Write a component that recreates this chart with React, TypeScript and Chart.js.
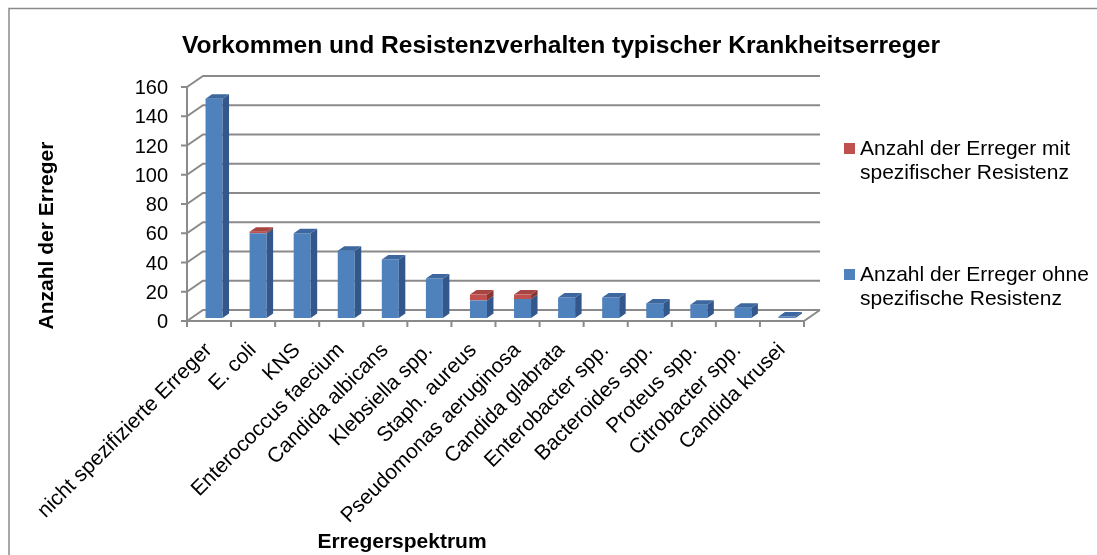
import React, { useEffect, useRef } from 'react';
import { Chart, registerables } from 'chart.js';

Chart.register(...registerables);

// ---------- data ----------
const categories = [
  'nicht spezifizierte Erreger',
  'E. coli',
  'KNS',
  'Enterococcus faecium',
  'Candida albicans',
  'Klebsiella spp.',
  'Staph. aureus',
  'Pseudomonas aeruginosa',
  'Candida glabrata',
  'Enterobacter spp.',
  'Bacteroides spp.',
  'Proteus spp.',
  'Citrobacter spp.',
  'Candida krusei',
];
const ohneResistenz = [150, 58, 58, 46, 40, 27, 12, 13, 14, 14, 10, 9, 7, 1];
const mitResistenz = [0, 1, 0, 0, 0, 0, 4, 3, 0, 0, 0, 0, 0, 0];
const yTicks = [0, 20, 40, 60, 80, 100, 120, 140, 160];
const seriesOhne = 'Anzahl der Erreger ohne spezifische Resistenz';
const seriesMit = 'Anzahl der Erreger mit spezifischer Resistenz';
const legendMitLines = ['Anzahl der Erreger mit', 'spezifischer Resistenz'];
const legendOhneLines = ['Anzahl der Erreger ohne', 'spezifische Resistenz'];
const chartTitle = 'Vorkommen und Resistenzverhalten typischer Krankheitserreger';
const yTitle = 'Anzahl der Erreger';
const xTitle = 'Erregerspektrum';

// ---------- style ----------
const FONT = '"Liberation Sans", Arial, Helvetica, sans-serif';
const BLUE = { front: '#4F81BD', side: '#33578A', top: '#3C679F' };
const RED = { front: '#C0504D', side: '#873634', top: '#A84441' };
const GRID = '#8a8a8a';
const WALL = { dx: 16, dy: -11 };
const BAR_D = { dx: 6.5, dy: -4.5 };
const PLANE = { dx: -5, dy: 3 };

const excel3d = {
  id: 'excel3d',
  beforeDatasetsDraw(chart: any) {
    const { ctx, chartArea: ca, scales } = chart;
    const x = scales.x;
    const y = scales.y;
    const n = categories.length;
    const cw = (ca.right - ca.left) / n;
    const fy = (v: number) => y.getPixelForValue(v) + PLANE.dy;
    const fx0 = x.getPixelForValue(0) - cw / 2 + PLANE.dx;
    const fx1 = x.getPixelForValue(n - 1) + cw / 2 + PLANE.dx;
    const y0 = fy(0);
    ctx.save();
    ctx.strokeStyle = GRID;
    ctx.lineWidth = 2;
    ctx.lineJoin = 'miter';
    yTicks.forEach((v) => {
      const yy = fy(v);
      ctx.beginPath();
      ctx.moveTo(fx0, yy);
      ctx.lineTo(fx0 + WALL.dx, yy + WALL.dy);
      ctx.lineTo(fx1 + WALL.dx, yy + WALL.dy);
      ctx.stroke();
    });
    ctx.beginPath();
    ctx.moveTo(fx0, y0);
    ctx.lineTo(fx1, y0);
    ctx.lineTo(fx1 + WALL.dx, y0 + WALL.dy);
    ctx.stroke();
    ctx.beginPath();
    ctx.moveTo(fx0, fy(yTicks[yTicks.length - 1]));
    ctx.lineTo(fx0, y0);
    ctx.stroke();
    yTicks.forEach((v) => {
      ctx.beginPath();
      ctx.moveTo(fx0 - 6, fy(v));
      ctx.lineTo(fx0, fy(v));
      ctx.stroke();
    });
    for (let i = 0; i <= n; i++) {
      const bx = fx0 + i * cw;
      ctx.beginPath();
      ctx.moveTo(bx, y0);
      ctx.lineTo(bx, y0 + 6);
      ctx.stroke();
    }
    ctx.restore();
  },
  afterDatasetsDraw(chart: any) {
    const { ctx } = chart;
    const mB = chart.getDatasetMeta(0);
    const mR = chart.getDatasetMeta(1);
    ctx.save();
    for (let i = 0; i < categories.length; i++) {
      const segs: any[] = [];
      if (ohneResistenz[i] > 0) segs.push([mB.data[i], BLUE]);
      if (mitResistenz[i] > 0) segs.push([mR.data[i], RED]);
      segs.forEach(([el, col], k) => {
        const p = el.getProps(['x', 'y', 'base', 'width'], true);
        const l = p.x - p.width / 2;
        const r = p.x + p.width / 2;
        const top = Math.min(p.y, p.base);
        const bot = Math.max(p.y, p.base);
        ctx.fillStyle = col.side;
        ctx.beginPath();
        ctx.moveTo(r, top);
        ctx.lineTo(r + BAR_D.dx, top + BAR_D.dy);
        ctx.lineTo(r + BAR_D.dx, bot + BAR_D.dy);
        ctx.lineTo(r, bot);
        ctx.closePath();
        ctx.fill();
        if (k === segs.length - 1) {
          ctx.fillStyle = col.top;
          ctx.beginPath();
          ctx.moveTo(l, top);
          ctx.lineTo(l + BAR_D.dx, top + BAR_D.dy);
          ctx.lineTo(r + BAR_D.dx, top + BAR_D.dy);
          ctx.lineTo(r, top);
          ctx.closePath();
          ctx.fill();
        }
      });
    }
    ctx.restore();
  },
  afterDraw(chart: any) {
    const { ctx, chartArea: ca, scales } = chart;
    const x = scales.x;
    const y = scales.y;
    const n = categories.length;
    const cw = (ca.right - ca.left) / n;
    const fy = (v: number) => y.getPixelForValue(v) + PLANE.dy;
    const fx0 = x.getPixelForValue(0) - cw / 2 + PLANE.dx;
    const y0 = fy(0);
    ctx.save();
    // frame
    ctx.strokeStyle = '#8a8a8a';
    ctx.lineWidth = 1.5;
    ctx.beginPath();
    ctx.moveTo(9, 555);
    ctx.lineTo(9, 8.5);
    ctx.lineTo(1097, 8.5);
    ctx.stroke();

    ctx.fillStyle = '#000';
    // title
    ctx.font = `bold 24.6px ${FONT}`;
    ctx.textAlign = 'center';
    ctx.textBaseline = 'alphabetic';
    ctx.fillText(chartTitle, 561, 53);

    // y tick labels
    ctx.font = `20px ${FONT}`;
    ctx.textAlign = 'right';
    yTicks.forEach((v) => {
      ctx.fillText(String(v), fx0 - 19, fy(v) + 7);
    });

    // category labels
    ctx.font = `21px ${FONT}`;
    categories.forEach((c, i) => {
      const bx = x.getPixelForValue(i) - cw / 2 + PLANE.dx;
      ctx.save();
      ctx.translate(bx + 26, y0 + 30);
      ctx.rotate(-Math.PI / 4);
      ctx.textAlign = 'right';
      ctx.fillText(c, 0, 0);
      ctx.restore();
    });

    // axis titles
    ctx.font = `bold 21px ${FONT}`;
    ctx.textAlign = 'center';
    ctx.fillText(xTitle, 402, 548);
    ctx.save();
    ctx.translate(53, 235.5);
    ctx.rotate(-Math.PI / 2);
    ctx.fillText(yTitle, 0, 0);
    ctx.restore();

    // legend
    ctx.font = `21px ${FONT}`;
    ctx.textAlign = 'left';
    const items: [string[], string, number][] = [
      [legendMitLines, RED.front, 155],
      [legendOhneLines, BLUE.front, 281],
    ];
    items.forEach(([lines, color, base]) => {
      ctx.fillStyle = color;
      ctx.fillRect(844, base - 12, 11, 11);
      ctx.fillStyle = '#000';
      lines.forEach((t, j) => ctx.fillText(t, 860, base + j * 24));
    });
    ctx.restore();
  },
};

export default function App() {
  const ref = useRef<HTMLCanvasElement | null>(null);
  useEffect(() => {
    if (!ref.current) return;
    const chart = new Chart(ref.current, {
      type: 'bar',
      data: {
        labels: categories,
        datasets: [
          {
            label: seriesOhne,
            data: ohneResistenz,
            backgroundColor: BLUE.front,
            borderWidth: 0,
            barPercentage: 0.386,
            categoryPercentage: 1,
          },
          {
            label: seriesMit,
            data: mitResistenz,
            backgroundColor: RED.front,
            borderWidth: 0,
            barPercentage: 0.386,
            categoryPercentage: 1,
          },
        ],
      },
      options: {
        animation: false,
        responsive: true,
        maintainAspectRatio: false,
        layout: { padding: { left: 192, right: 288, top: 84, bottom: 237 } },
        plugins: {
          legend: { display: false },
          tooltip: { enabled: false },
          title: { display: false },
        },
        scales: {
          x: { stacked: true, display: false, offset: true },
          y: { stacked: true, display: false, min: 0, max: 160 },
        },
      },
      plugins: [excel3d],
    });
    return () => chart.destroy();
  }, []);
  return (
    <div style={{ position: 'absolute', left: 0, top: 0, width: 1097, height: 555, background: '#fff' }}>
      <canvas ref={ref} />
    </div>
  );
}
